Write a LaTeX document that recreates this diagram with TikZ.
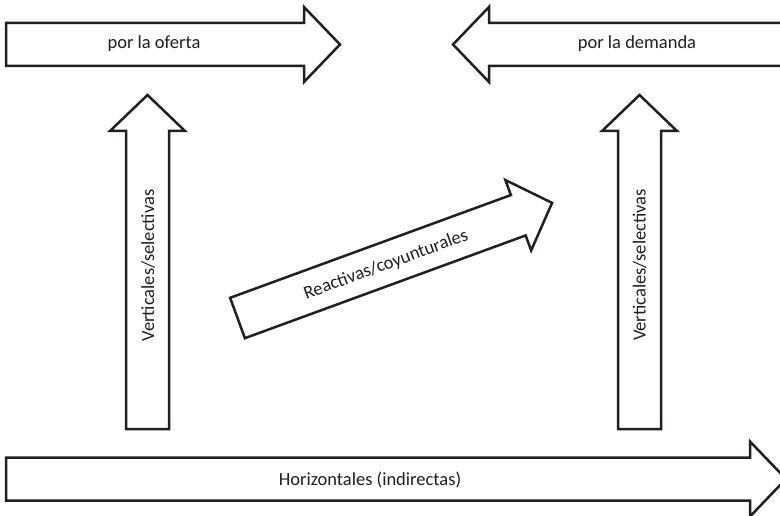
\documentclass[tikz,border=0pt]{standalone}
\usepackage{fontspec}
\setmainfont{Carlito}
\definecolor{ink}{HTML}{231F20}
\tikzset{
  arrowline/.style={draw=ink, line width=2.5pt, line join=miter, fill=white},
  lbl/.style={text=ink, font=\fontsize{18.5}{22}\selectfont, inner sep=0pt}
}
% block arrow: #1 tail centre, #2 direction angle, #3 length (tail to tip)
\newcommand{\fatarrow}[3]{%
  \draw[arrowline, shift={#1}, rotate=#2]
    (0,-21.5) -- ({#3-36},-21.5) -- ({#3-36},-37.5) -- (#3,0)
    -- ({#3-36},37.5) -- ({#3-36},21.5) -- (0,21.5) -- cycle;}
\begin{document}
\begin{tikzpicture}[x=1pt,y=1pt]
  \clip (0,0) rectangle (780,-516);
  \fill[white] (0,0) rectangle (780,-516);

  % supply and demand arrows
  \fatarrow{(6,-44.5)}{0}{334}
  \fatarrow{(800,-44.5)}{180}{347}
  % vertical arrows
  \fatarrow{(147.5,-429)}{90}{334}
  \fatarrow{(639.5,-429)}{90}{334}
  % diagonal arrow
  \fatarrow{(237.5,-318)}{20.1}{335}
  % horizontal arrow along the bottom
  \fatarrow{(6,-479)}{0}{780}

  \node[lbl] (oferta) at (154,-44) {por la oferta};
  \node[lbl] (demanda) at (637,-44) {por la demanda};
  \node[lbl, rotate=90] (vertL) at (148,-265.5) {Verticales/selectivas};
  \node[lbl, rotate=90] (vertR) at (639.5,-265) {Verticales/selectivas};
  \node[lbl, rotate=20.1] (reac) at (386,-265) {Reactivas/coyunturales};
  \node[lbl] (horiz) at (370,-480) {Horizontales (indirectas)};
\end{tikzpicture}
\end{document}
